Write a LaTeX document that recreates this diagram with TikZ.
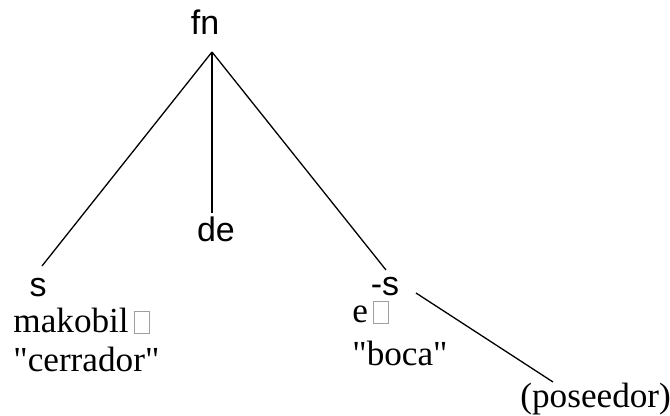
\documentclass[tikz,border=0pt]{standalone}
\usepackage{fontspec}
\setmainfont{Liberation Serif}
\setsansfont{Liberation Sans}
\newcommand{\nochar}{\hspace{2.5pt}{\color{gray!75}\setlength{\fboxsep}{0pt}\setlength{\fboxrule}{0.6pt}\fbox{\phantom{\rule{7pt}{10.5pt}}}}}

\begin{document}
\begin{tikzpicture}[
        x=0.5pt, y=-0.5pt,
        every node/.style={inner sep=0pt, font=\fontsize{17.6}{20}\selectfont},
        morph/.style={anchor=base, font=\sffamily\fontsize{17}{20}\selectfont},
        gloss/.style={anchor=base west},
        branch/.style={line width=0.65pt},
    ]
    \useasboundingbox (0,0) rectangle (670,416);

    % root and its three branches
    \node[morph] (fn) at (205, 35) {fn};
    \coordinate (top) at (212, 52);
    \coordinate (sfoot) at (42, 266);
    \coordinate (defoot) at (212, 213);
    \coordinate (pfoot) at (386, 270);
    \draw[branch] (top) -- (sfoot);
    \draw[branch] (top) -- (defoot);
    \draw[branch] (top) -- (pfoot);

    % stem
    \node[morph] (s) at (38, 297) {s};
    \node[gloss] (makobil) at (13, 333) {makobil\nochar};
    \node[gloss] (cerrador) at (13, 372) {\textquotedbl cerrador\textquotedbl};

    % middle
    \node[morph] (de) at (216, 242) {de};

    % possessed noun
    \node[morph] (poss) at (385, 296) {-s};
    \node[gloss] (e) at (352, 323) {e\nochar};
    \node[gloss] (boca) at (352, 366) {\textquotedbl boca\textquotedbl};

    % possessor
    \node[gloss] (poseedor) at (520, 408) {(poseedor)};
    \coordinate (possend) at (416, 293);
    \coordinate (poseend) at (553, 382);
    \draw[branch] (possend) -- (poseend);
\end{tikzpicture}
\end{document}
